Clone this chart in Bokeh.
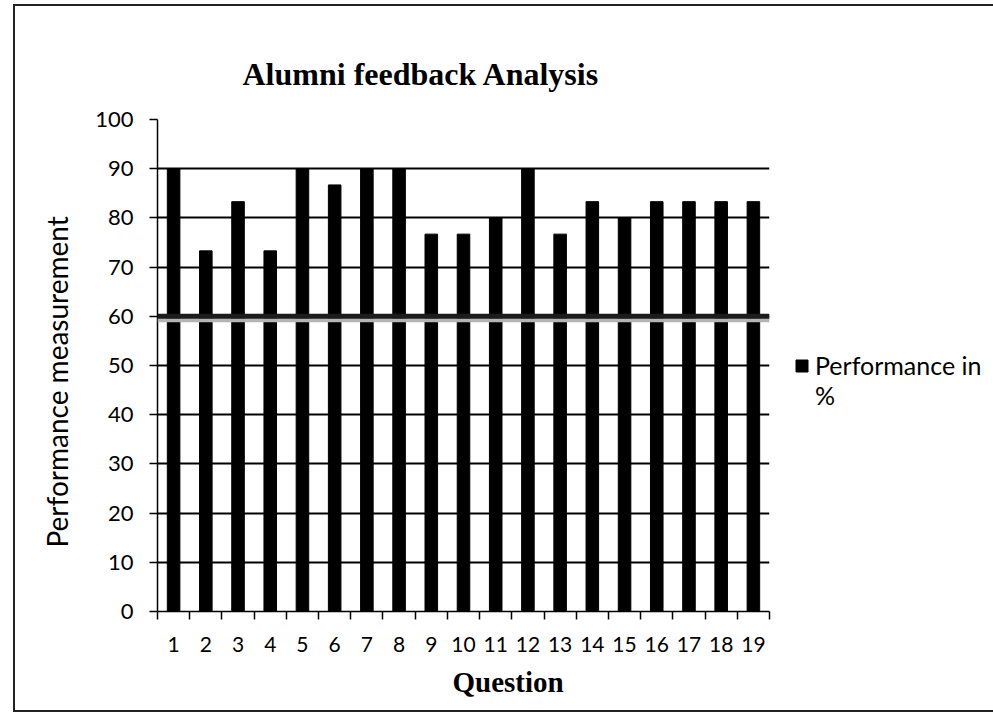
from bokeh.plotting import figure
from bokeh.models import ColumnDataSource, FixedTicker, Span, Legend, LegendItem, Title
from bokeh.embed import file_html
from bokeh.resources import INLINE

questions = [1, 2, 3, 4, 5, 6, 7, 8, 9, 10, 11, 12, 13, 14, 15, 16, 17, 18, 19]
performance = [90.0, 73.3, 83.3, 73.3, 90.0, 86.7, 90.0, 90.0, 76.7, 76.7,
               80.0, 90.0, 76.7, 83.3, 80.0, 83.3, 83.3, 83.3, 83.3]
y_ticks = [0, 10, 20, 30, 40, 50, 60, 70, 80, 90, 100]
threshold = 60
legend_lines = ["Performance in", "%"]

source = ColumnDataSource(data=dict(q=questions, v=performance))
empty = ColumnDataSource(data=dict(q=[], v=[]))

p = figure(frame_width=612, frame_height=492, x_range=(0.5, 19.5), y_range=(0, 100),
           output_backend="svg", toolbar_location=None,
           min_border_left=142, min_border_top=113, min_border_right=210, min_border_bottom=99)
p.styles = {"margin-left": "13px", "margin-top": "4px",
            "border-left": "2px solid #222", "border-top": "2px solid #222",
            "border-bottom": "2px solid #222"}
p.outline_line_color = None
p.background_fill_color = "white"
p.border_fill_color = "white"

bars = p.vbar(x="q", top="v", width=0.39, source=source, fill_color="black", line_color="black")
# invisible renderer used only to carry the second legend line
spacer = p.vbar(x="q", top="v", width=0.39, source=empty, fill_alpha=0, line_alpha=0)

p.add_layout(Span(location=threshold - 0.8, dimension="width", line_color="#b4b4b4", line_width=4))
p.add_layout(Span(location=threshold, dimension="width", line_color="#1c1c1c", line_width=5))

# title
p.title = Title(text="Alumni feedback Analysis", align="left", offset=85, standoff=55,
                text_font="Liberation Serif", text_font_style="bold", text_font_size="32px",
                text_color="black")

# y axis
p.yaxis.ticker = FixedTicker(ticks=y_ticks)
p.yaxis.axis_line_color = "black"
p.yaxis.axis_line_width = 1.5
p.yaxis.major_tick_out = 8
p.yaxis.major_tick_in = 0
p.yaxis.major_tick_line_color = "black"
p.yaxis.major_tick_line_width = 1.5
p.yaxis.minor_tick_line_color = None
p.yaxis.major_label_text_font = "Lato"
p.yaxis.major_label_text_font_size = "22px"
p.yaxis.major_label_text_color = "black"
p.yaxis.major_label_standoff = 16

p.add_layout(Title(text="Performance measurement", align="left", offset=64, standoff=38,
                   text_font="Lato", text_font_size="28px", text_font_style="normal",
                   text_color="black"), "left")

p.ygrid.ticker = FixedTicker(ticks=y_ticks)
p.ygrid.grid_line_color = "black"
p.ygrid.grid_line_width = 1.8
p.xgrid.grid_line_color = None

# x axis: labels at centers, tick marks at category boundaries
boundaries = [q - 0.5 for q in questions] + [questions[-1] + 0.5]
p.xaxis.ticker = FixedTicker(ticks=questions, minor_ticks=boundaries)
p.xaxis.axis_line_color = "black"
p.xaxis.axis_line_width = 1.5
p.xaxis.major_tick_line_color = None
p.xaxis.major_tick_out = 8
p.xaxis.major_tick_in = 0
p.xaxis.minor_tick_line_color = "black"
p.xaxis.minor_tick_line_width = 1.5
p.xaxis.minor_tick_out = 8
p.xaxis.minor_tick_in = 0
p.xaxis.major_label_text_font = "Lato"
p.xaxis.major_label_text_font_size = "21px"
p.xaxis.major_label_text_color = "black"
p.xaxis.major_label_standoff = 17

p.add_layout(Title(text="Question", align="left", offset=295, standoff=18,
                   text_font="Liberation Serif", text_font_style="bold", text_font_size="29px",
                   text_color="black"), "below")

legend = Legend(items=[LegendItem(label=legend_lines[0], renderers=[bars]),
                       LegendItem(label=legend_lines[1], renderers=[spacer])],
                location=(25, 201), padding=0, margin=0, spacing=0,
                glyph_width=15, glyph_height=15, label_standoff=6, label_height=30,
                label_text_font="Lato", label_text_font_size="25px",
                label_text_color="black", border_line_color=None,
                background_fill_alpha=0)
p.add_layout(legend, "right")

open("out.html", "w").write(file_html(p, INLINE))
